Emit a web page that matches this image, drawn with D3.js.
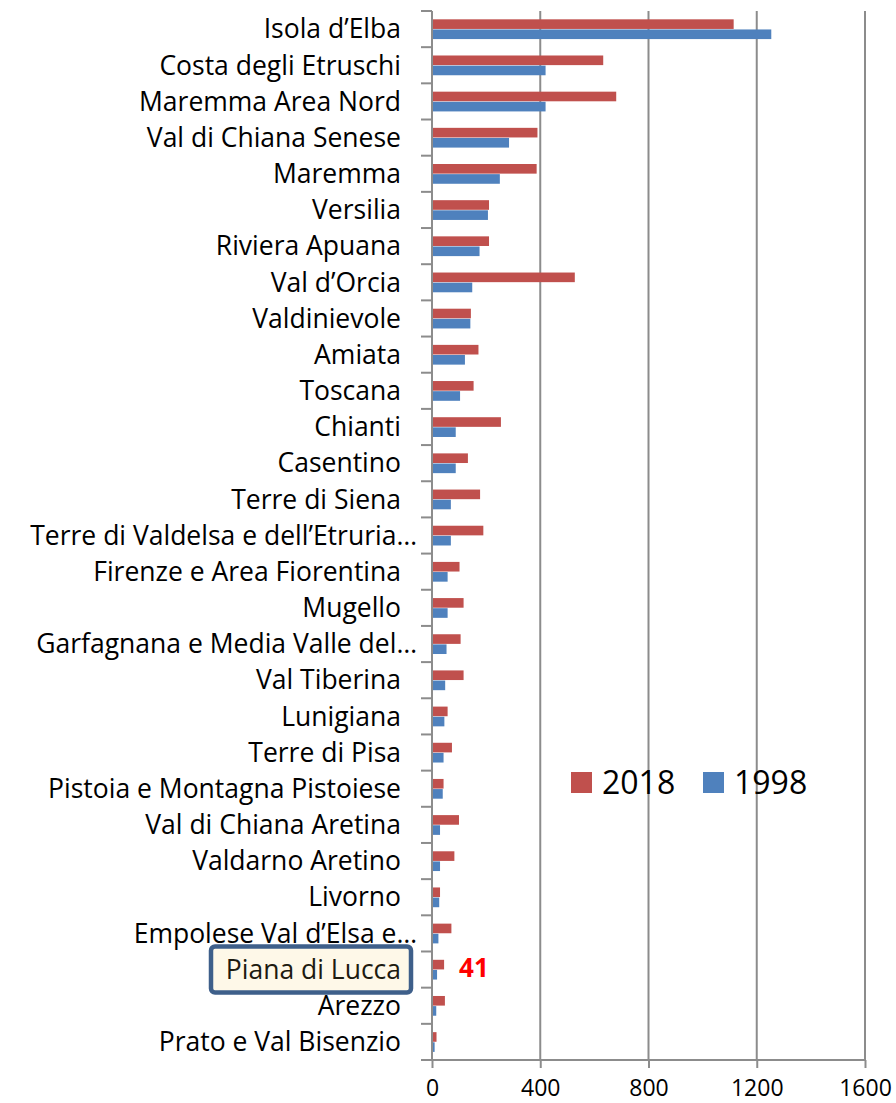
<!DOCTYPE html>
<html>
<head>
<meta charset="utf-8">
<script src="https://cdn.jsdelivr.net/npm/d3@7"></script>
<style>
  body { margin: 0; background: #fff; }
  text { font-family: "Open Sans", "Liberation Sans", sans-serif; }
</style>
</head>
<body>
<div id="chart"></div>
<script>
const categories = [
  "Isola d’Elba", "Costa degli Etruschi", "Maremma Area Nord", "Val di Chiana Senese",
  "Maremma", "Versilia", "Riviera Apuana", "Val d’Orcia", "Valdinievole", "Amiata",
  "Toscana", "Chianti", "Casentino", "Terre di Siena", "Terre di Valdelsa e dell’Etruria…",
  "Firenze e Area Fiorentina", "Mugello", "Garfagnana e Media Valle del…", "Val Tiberina",
  "Lunigiana", "Terre di Pisa", "Pistoia e Montagna Pistoiese", "Val di Chiana Aretina",
  "Valdarno Aretino", "Livorno", "Empolese Val d’Elsa e…", "Piana di Lucca", "Arezzo",
  "Prato e Val Bisenzio"
];
const values2018 = [
  1111, 629, 677, 386, 383, 207, 207, 524, 140, 168,
  150, 251, 129, 174, 186, 98, 113, 102, 113, 54,
  70, 39, 96, 79, 26, 68, 41, 44, 13
];
const values1998 = [
  1250, 416, 416, 281, 247, 203, 172, 145, 138, 118,
  100, 84, 84, 66, 66, 54, 54, 50, 45, 42,
  39, 36, 26, 26, 23, 20, 15, 12, 6
];
const seriesNames = ["2018", "1998"];
const xTicks = [0, 400, 800, 1200, 1600];
const highlight = "Piana di Lucca";

const W = 896, H = 1103;
const plot = { left: 432, right: 865, top: 11, bottom: 1060 };
const colors = { "2018": "#c0504d", "1998": "#4f81bd" };
const gridColor = "#8c8c8c";

const svg = d3.select("#chart").append("svg")
  .attr("width", W).attr("height", H);

const x = d3.scaleLinear().domain([0, 1600]).range([plot.left, plot.right]);
const y = d3.scaleBand().domain(categories).range([plot.top, plot.bottom]);
const bw = y.bandwidth();
const y1 = d3.scaleBand().domain(seriesNames).range([bw * 0.23, bw * 0.79]);

// gridlines
svg.append("g")
  .selectAll("line")
  .data(xTicks.slice(1))
  .join("line")
  .attr("x1", d => x(d)).attr("x2", d => x(d))
  .attr("y1", plot.top).attr("y2", plot.bottom)
  .attr("stroke", gridColor).attr("stroke-width", 2);

// bars
const rows = categories.map((c, i) => ({ c, "2018": values2018[i], "1998": values1998[i] }));
const groups = svg.append("g").selectAll("g")
  .data(rows)
  .join("g")
  .attr("transform", d => `translate(0,${y(d.c)})`);

groups.selectAll("rect")
  .data(d => seriesNames.map(s => ({ s, v: d[s] })))
  .join("rect")
  .attr("x", x(0) + 1)
  .attr("y", d => y1(d.s))
  .attr("width", d => x(d.v) - x(0))
  .attr("height", y1.bandwidth() - 0.5)
  .attr("fill", d => colors[d.s]);

// x axis
const xAxis = svg.append("g")
  .attr("transform", `translate(0,${plot.bottom})`)
  .call(d3.axisBottom(x).tickValues(xTicks).tickFormat(d3.format("d"))
    .tickSize(8).tickPadding(12).tickSizeOuter(0));
xAxis.select(".domain").attr("stroke", gridColor).attr("stroke-width", 2)
  .attr("d", `M${plot.left - 10},0H${plot.right}`);
xAxis.selectAll(".tick line").attr("stroke", gridColor).attr("stroke-width", 2);
xAxis.selectAll(".tick text")
  .attr("font-size", 23).attr("fill", "#000")
  .style("font-family", "'Open Sans', sans-serif");

// y axis line and ticks at band boundaries
svg.append("line")
  .attr("x1", plot.left).attr("x2", plot.left)
  .attr("y1", plot.top).attr("y2", plot.bottom)
  .attr("stroke", gridColor).attr("stroke-width", 2);
const boundaries = categories.map(c => y(c)).concat([plot.bottom]);
svg.append("g").selectAll("line")
  .data(boundaries)
  .join("line")
  .attr("x1", plot.left - 11).attr("x2", plot.left)
  .attr("y1", d => d).attr("y2", d => d)
  .attr("stroke", gridColor).attr("stroke-width", 2);

// highlight box
svg.append("rect")
  .attr("x", 211).attr("y", y(highlight) - 5)
  .attr("width", 200).attr("height", 46)
  .attr("rx", 4)
  .attr("fill", "#fef8e8")
  .attr("stroke", "#3e5f8a").attr("stroke-width", 4.5);

// category labels
svg.append("g").selectAll("text")
  .data(categories)
  .join("text")
  .attr("x", d => d.endsWith("…") ? 417 : 401)
  .attr("y", d => y(d) + bw / 2)
  .attr("dy", "0.35em")
  .attr("text-anchor", "end")
  .attr("font-size", 26.5)
  .attr("fill", d => d === highlight ? "#1d1b10" : "#000")
  .text(d => d);

// highlighted value
const hi = categories.indexOf(highlight);
svg.append("text")
  .attr("x", x(values2018[hi]) + 16)
  .attr("y", y(highlight) + bw / 2 - 2)
  .attr("dy", "0.35em")
  .attr("font-size", 26)
  .attr("font-weight", "bold")
  .attr("fill", "#ff0000")
  .text(values2018[hi]);

// legend
const legend = svg.append("g").attr("transform", "translate(571,772)");
const items = legend.selectAll("g")
  .data(seriesNames)
  .join("g")
  .attr("transform", (d, i) => `translate(${i * 132},0)`);
items.append("rect")
  .attr("width", 21).attr("height", 21)
  .attr("fill", d => colors[d]);
items.append("text")
  .attr("x", 31).attr("y", 10.5)
  .attr("dy", "0.35em")
  .attr("font-size", 32)
  .attr("fill", "#000")
  .text(d => d);
</script>
</body>
</html>
